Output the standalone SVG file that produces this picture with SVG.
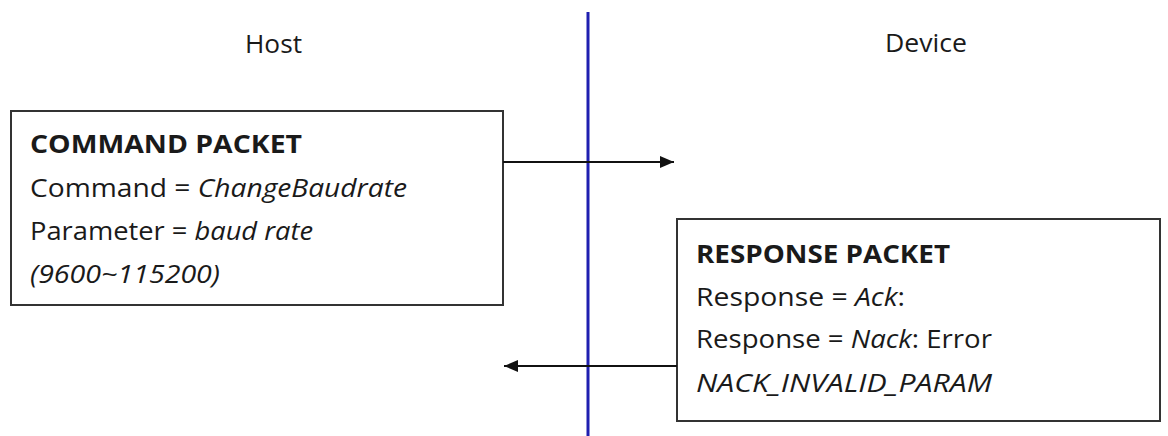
<svg xmlns="http://www.w3.org/2000/svg" width="1168" height="436" viewBox="0 0 1168 436">
<style>
text{font-family:"Open Sans","Noto Sans","DejaVu Sans",sans-serif;font-size:25px;fill:#1a1a1a}
.b{font-weight:bold}
.i{font-style:italic}
.box{fill:#fff;stroke:#333;stroke-width:2}
.conn{stroke:#111;stroke-width:2;fill:none}
</style>
<defs>
<marker id="ah" viewBox="0 0 14 12" refX="14" refY="6" markerWidth="14" markerHeight="12" orient="auto" markerUnits="userSpaceOnUse">
<path d="M0,0 L14,6 L0,12 z" fill="#111"/>
</marker>
</defs>
<rect width="1168" height="436" fill="#fff"/>
<text x="245" y="53" textLength="57" lengthAdjust="spacingAndGlyphs">Host</text>
<text x="885" y="52" textLength="82" lengthAdjust="spacingAndGlyphs">Device</text>
<g id="command">
<rect class="box" x="11" y="111" width="492" height="194"/>
<text class="b" x="30" y="153" textLength="272" lengthAdjust="spacingAndGlyphs">COMMAND PACKET</text>
<text x="30" y="197" textLength="377" lengthAdjust="spacingAndGlyphs">Command = <tspan class="i">ChangeBaudrate</tspan></text>
<text x="30" y="240" textLength="283" lengthAdjust="spacingAndGlyphs">Parameter = <tspan class="i">baud rate</tspan></text>
<text class="i" x="30" y="283" textLength="190" lengthAdjust="spacingAndGlyphs">(9600~115200)</text>
</g>
<g id="response">
<rect class="box" x="677" y="219" width="483" height="202"/>
<text class="b" x="696" y="263" textLength="254" lengthAdjust="spacingAndGlyphs">RESPONSE PACKET</text>
<text x="696" y="306" textLength="209" lengthAdjust="spacingAndGlyphs">Response = <tspan class="i">Ack</tspan>:</text>
<text x="696" y="348" textLength="296" lengthAdjust="spacingAndGlyphs">Response = <tspan class="i">Nack</tspan>: Error</text>
<text class="i" x="696" y="392" textLength="296" lengthAdjust="spacingAndGlyphs">NACK_INVALID_PARAM</text>
</g>
<g id="connectors">
<line x1="588" y1="12" x2="588" y2="436" stroke="#1f1fb0" stroke-width="3"/>
<line class="conn" x1="503" y1="162" x2="674" y2="162" marker-end="url(#ah)"/>
<line class="conn" x1="677" y1="366" x2="504" y2="366" marker-end="url(#ah)"/>
</g>
</svg>
